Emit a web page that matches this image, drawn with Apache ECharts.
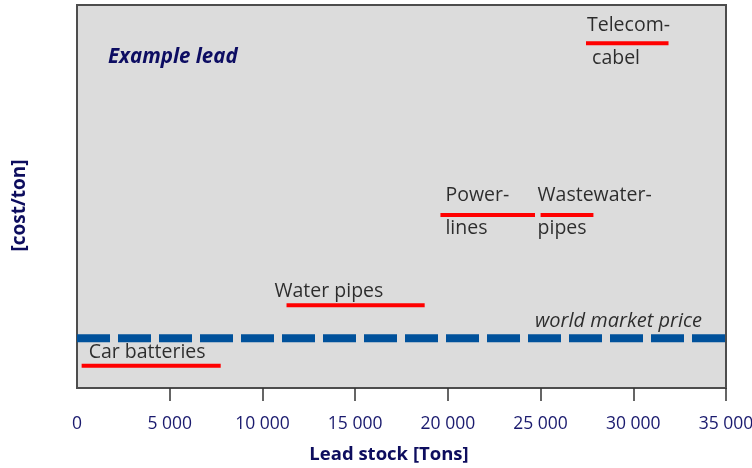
<!DOCTYPE html>
<html>
<head>
<meta charset="utf-8">
<script src="https://cdn.jsdelivr.net/npm/echarts@6/dist/echarts.min.js"></script>
<style>
  html, body { margin: 0; padding: 0; background: #fff; }
  #chart { width: 752px; height: 468px; }
</style>
</head>
<body>
<div id="chart"></div>
<script>
// lead stock ranges (tons) and relative cost level of each use
var uses = ["Car batteries", "Water pipes", "Power-\nlines", "Wastewater-\npipes", "Telecom-\n cabel"];
var stockFrom = [250, 11300, 19600, 25000, 27450];
var stockTo = [7750, 18750, 24700, 27850, 31900];
var costLevel = [5.8, 21.6, 45.2, 45.2, 90];

var worldPrice = 13;
var xTicks = [0, 5000, 10000, 15000, 20000, 25000, 30000, 35000];

// label placement (pixels) relative to the start of each segment
var labelShift = [[7, -13], [-12, -14], [5, -3], [-3, -3], [1, -1]];

var font = "'Open Sans', sans-serif";

function fmt(v) {
  return String(v).replace(/\B(?=(\d{3})+(?!\d))/g, " ");
}

var chart = echarts.init(document.getElementById("chart"));

var series = [];
uses.forEach(function (u, i) {
  series.push({
    name: u,
    type: "line",
    data: [[stockFrom[i], costLevel[i]], [stockTo[i], costLevel[i]]],
    symbol: "none",
    lineStyle: { color: "#ff0000", width: 4, cap: "butt" },
    silent: true,
    z: 3
  });
});

series.push({
  name: "world market price",
  type: "line",
  data: [[xTicks[0], worldPrice], [xTicks[xTicks.length - 1], worldPrice]],
  symbol: "none",
  lineStyle: { color: "#00519b", width: 8, type: [33, 8], cap: "butt" },
  silent: true,
  z: 2
});

// text labels anchored at segment starts
series.push({
  type: "scatter",
  symbolSize: 0,
  silent: true,
  z: 4,
  data: uses.map(function (u, i) {
    return {
      value: [stockFrom[i], costLevel[i]],
      name: u,
      label: {
        show: true,
        position: "right",
        distance: 0,
        offset: labelShift[i],
        formatter: u,
        color: "#000",
        fontFamily: font,
        fontSize: 19.5,
        lineHeight: 33,
        align: "left"
      }
    };
  }).concat([{
    value: [xTicks[xTicks.length - 1], worldPrice],
    label: {
      show: true,
      position: "left",
      distance: 0,
      offset: [-24, -17],
      formatter: "world market price",
      color: "#000",
      fontFamily: font,
      fontStyle: "italic",
      fontSize: 20
    }
  }])
});

var option = {
  animation: false,
  title: {
    text: "Example lead",
    left: 103,
    top: 42,
    textStyle: {
      color: "#0d0d62",
      fontFamily: font,
      fontStyle: "italic",
      fontWeight: "bold",
      fontSize: 20.5
    }
  },
  grid: {
    left: 77,
    right: 26,
    top: 5,
    bottom: 80,
    containLabel: false,
    outerBoundsMode: "none",
    show: true,
    backgroundColor: "#dcdcdc",
    borderColor: "#4d4d4d",
    borderWidth: 2
  },
  xAxis: {
    type: "value",
    min: xTicks[0],
    max: xTicks[xTicks.length - 1],
    interval: 5000,
    offset: 3,
    name: "Lead stock [Tons]",
    nameLocation: "middle",
    nameGap: 54,
    nameTextStyle: {
      color: "#0d0d5e",
      fontFamily: font,
      fontWeight: "bold",
      fontSize: 18.5,
      padding: [0, 25, 0, 0]
    },
    axisLine: { show: false },
    axisTick: {
      show: true,
      length: 13,
      customValues: xTicks.slice(1),
      lineStyle: { color: "#333", width: 1.5 }
    },
    splitLine: { show: false },
    axisLabel: {
      margin: 24,
      color: "#1a1a6e",
      fontFamily: font,
      fontSize: 17.5,
      formatter: fmt
    }
  },
  yAxis: {
    type: "value",
    min: 0,
    max: 100,
    name: "[cost/ton]",
    nameLocation: "middle",
    nameRotate: 90,
    nameGap: 48,
    nameTextStyle: {
      color: "#0d0d5e",
      fontFamily: font,
      fontWeight: "bold",
      fontSize: 19,
      padding: [0, 18, 0, 0]
    },
    axisLine: { show: false },
    axisTick: { show: false },
    axisLabel: { show: false },
    splitLine: { show: false }
  },
  series: series
};

chart.setOption(option);
</script>
</body>
</html>
